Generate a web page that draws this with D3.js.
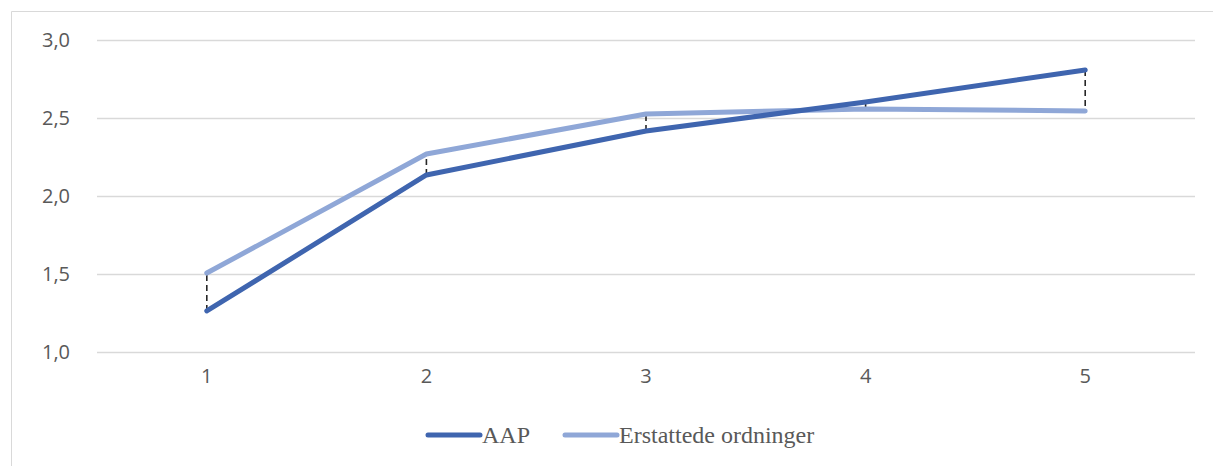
<!DOCTYPE html>
<html>
<head>
<meta charset="utf-8">
<script src="https://cdn.jsdelivr.net/npm/d3@7"></script>
<style>
  html, body { margin: 0; padding: 0; background: #fff; }
  svg { display: block; }
</style>
</head>
<body>
<svg id="chart" width="1213" height="466"></svg>
<script>
const categories = ["1", "2", "3", "4", "5"];
const aap = [1.263, 2.135, 2.417, 2.603, 2.808];
const erstattede = [1.506, 2.269, 2.526, 2.558, 2.545];
const yTicks = [1.0, 1.5, 2.0, 2.5, 3.0];
const seriesNames = ["AAP", "Erstattede ordninger"];

const colors = { aap: "#3F65AF", erst: "#8FA7D7" };

const svg = d3.select("#chart");
const W = 1213, H = 466;

// chart frame
svg.append("path")
  .attr("d", `M11.5,${H} V11.5 H${W}`)
  .attr("fill", "none")
  .attr("stroke", "#D9D9D9")
  .attr("stroke-width", 1);

const plot = { left: 97, right: 1195, top: 40, bottom: 352 };

const x = d3.scaleBand().domain(categories).range([plot.left, plot.right]);
const y = d3.scaleLinear().domain([1.0, 3.0]).range([plot.bottom, plot.top]);
const cx = c => x(c) + x.bandwidth() / 2;

// horizontal gridlines
svg.append("g")
  .selectAll("line")
  .data(yTicks)
  .join("line")
  .attr("x1", plot.left).attr("x2", plot.right)
  .attr("y1", d => Math.round(y(d)) + 0.5).attr("y2", d => Math.round(y(d)) + 0.5)
  .attr("stroke", "#D9D9D9").attr("stroke-width", 1.3);

const labelFont = "'Open Sans', 'Liberation Sans', sans-serif";

// y axis labels
const fmt = d => d3.format(".1f")(d).replace(".", ",");
const yAxis = d3.axisLeft(y).tickValues(yTicks).tickFormat(fmt).tickSize(0).tickPadding(0);
const gy = svg.append("g").attr("transform", "translate(70,0)").call(yAxis)
  .attr("font-family", labelFont).attr("font-size", 20);
gy.select(".domain").remove();
gy.selectAll("text").attr("fill", "#595959");

// x axis labels
const xAxis = d3.axisBottom(x).tickSize(0).tickPadding(0);
const gx = svg.append("g").attr("transform", `translate(0,${plot.bottom + 17})`).call(xAxis)
  .attr("font-family", labelFont).attr("font-size", 20);
gx.select(".domain").remove();
gx.selectAll("text").attr("fill", "#595959");

// high-low drop lines between the two series
svg.append("g")
  .selectAll("line")
  .data(categories.map((c, i) => ({ c, a: aap[i], b: erstattede[i] })))
  .join("line")
  .attr("x1", d => cx(d.c)).attr("x2", d => cx(d.c))
  .attr("y1", d => y(d.a)).attr("y2", d => y(d.b))
  .attr("stroke", "#262626").attr("stroke-width", 1.6)
  .attr("stroke-dasharray", "6,4");

const line = d3.line().x((d, i) => cx(categories[i])).y(d => y(d));

svg.append("path").datum(erstattede)
  .attr("d", line).attr("fill", "none")
  .attr("stroke", colors.erst).attr("stroke-width", 5)
  .attr("stroke-linecap", "round").attr("stroke-linejoin", "round");

svg.append("path").datum(aap)
  .attr("d", line).attr("fill", "none")
  .attr("stroke", colors.aap).attr("stroke-width", 5)
  .attr("stroke-linecap", "round").attr("stroke-linejoin", "round");

// legend
const legend = svg.append("g").attr("font-family", "'Liberation Serif', 'Times New Roman', serif")
  .attr("font-size", 24).attr("fill", "#595959");
const legendItems = [
  { name: seriesNames[0], color: colors.aap, x: 428 },
  { name: seriesNames[1], color: colors.erst, x: 565 }
];
legendItems.forEach(it => {
  legend.append("line")
    .attr("x1", it.x).attr("x2", it.x + 52)
    .attr("y1", 435).attr("y2", 435)
    .attr("stroke", it.color).attr("stroke-width", 5)
    .attr("stroke-linecap", "round");
  legend.append("text")
    .attr("x", it.x + 54).attr("y", 443)
    .text(it.name);
});
</script>
</body>
</html>
